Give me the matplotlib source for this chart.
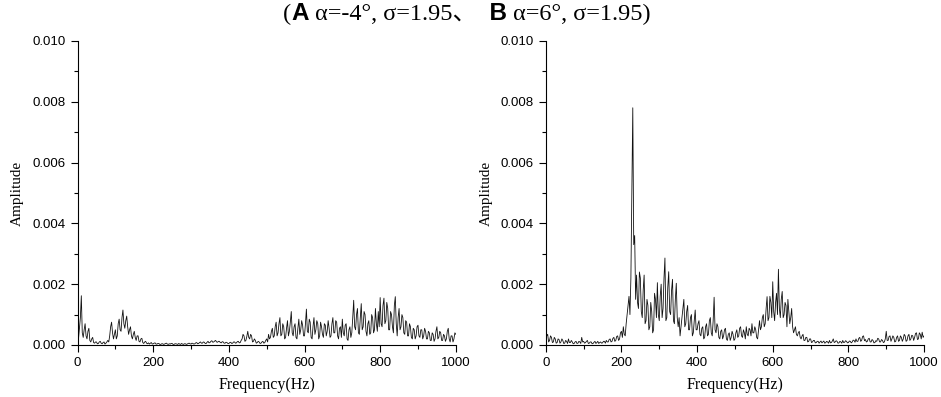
import numpy as np
import matplotlib
matplotlib.use('Agg')
from matplotlib import pyplot as plt
from matplotlib.ticker import MultipleLocator, FormatStrFormatter

# spectrum amplitudes (x 1e-3), one value every 2.5 Hz, one row = 50 Hz
freq = np.arange(0, 1000.1, 2.5)
amp_A = [
    0.35, 0.2, 0.55, 0.9, 1.62, 0.4, 0.25, 0.5, 0.7, 0.3, 0.2, 0.45, 0.55, 0.15, 0.1, 0.2, 0.25, 0.08, 0.06, 0.1,
    0.1, 0.04, 0.05, 0.1, 0.12, 0.06, 0.04, 0.08, 0.1, 0.03, 0.06, 0.1, 0.15, 0.1, 0.3, 0.6, 0.75, 0.4, 0.2, 0.35,
    0.5, 0.2, 0.3, 0.7, 0.85, 0.5, 0.45, 0.9, 1.15, 0.7, 0.55, 0.8, 0.95, 0.6, 0.35, 0.5, 0.6, 0.3, 0.2, 0.35,
    0.45, 0.25, 0.15, 0.3, 0.3, 0.12, 0.1, 0.2, 0.22, 0.08, 0.05, 0.1, 0.12, 0.06, 0.04, 0.07, 0.03, 0.06, 0.08, 0.03,
    0.04, 0.06, 0.07, 0.03, 0.03, 0.05, 0.05, 0.02, 0.02, 0.04, 0.04, 0.02, 0.03, 0.05, 0.06, 0.03, 0.02, 0.04, 0.03, 0.05,
    0.05, 0.02, 0.02, 0.04, 0.04, 0.03, 0.02, 0.05, 0.03, 0.02, 0.05, 0.03, 0.02, 0.04, 0.04, 0.02, 0.03, 0.05, 0.06, 0.04,
    0.03, 0.06, 0.05, 0.03, 0.04, 0.07, 0.08, 0.04, 0.05, 0.08, 0.1, 0.06, 0.06, 0.1, 0.09, 0.05, 0.05, 0.09, 0.12, 0.07,
    0.08, 0.12, 0.14, 0.09, 0.1, 0.13, 0.15, 0.1, 0.09, 0.12, 0.12, 0.08, 0.07, 0.11, 0.1, 0.06, 0.06, 0.09, 0.08, 0.05,
    0.05, 0.08, 0.09, 0.05, 0.06, 0.1, 0.1, 0.06, 0.07, 0.11, 0.12, 0.07, 0.08, 0.15, 0.2, 0.35, 0.3, 0.12, 0.15, 0.28,
    0.45, 0.25, 0.2, 0.35, 0.3, 0.1, 0.12, 0.2, 0.15, 0.06, 0.08, 0.12, 0.1, 0.05, 0.06, 0.1, 0.12, 0.06, 0.08, 0.15,
    0.2, 0.1, 0.35, 0.2, 0.25, 0.45, 0.55, 0.25, 0.3, 0.6, 0.75, 0.3, 0.4, 0.7, 0.9, 0.3, 0.35, 0.7, 0.6, 0.2,
    0.25, 0.55, 0.8, 0.3, 0.45, 0.75, 1.1, 0.4, 0.3, 0.6, 0.7, 0.25, 0.2, 0.55, 0.85, 0.35, 0.5, 0.8, 0.65, 0.3,
    0.3, 0.7, 1.18, 0.45, 0.4, 0.85, 0.75, 0.25, 0.2, 0.6, 0.9, 0.35, 0.5, 0.8, 0.7, 0.2, 0.3, 0.75, 0.6, 0.35,
    0.25, 0.7, 0.65, 0.3, 0.45, 0.8, 0.55, 0.25, 0.3, 0.7, 0.9, 0.4, 0.4, 0.8, 0.75, 0.3, 0.2, 0.55, 0.6, 0.25,
    0.85, 0.4, 0.3, 0.65, 0.7, 0.2, 0.15, 0.5, 0.6, 0.25, 0.4, 0.9, 1.47, 0.6, 0.5, 1.0, 1.2, 0.4, 0.35, 0.9,
    1.36, 0.5, 0.6, 1.1, 1.0, 0.45, 0.3, 0.7, 0.8, 0.35, 0.4, 1.0, 0.9, 0.4, 0.5, 1.2, 0.7, 0.45, 1.1, 0.6,
    1.56, 0.7, 0.6, 1.3, 1.54, 0.7, 0.8, 1.4, 1.2, 0.5, 0.5, 1.1, 1.0, 0.6, 0.4, 1.3, 1.59, 0.7, 0.3, 0.9,
    1.2, 0.5, 0.6, 1.0, 0.9, 0.4, 0.35, 0.8, 0.75, 0.3, 0.3, 0.7, 0.6, 0.25, 0.2, 0.55, 0.5, 0.2, 0.3, 0.6,
    0.65, 0.3, 0.25, 0.5, 0.5, 0.2, 0.3, 0.55, 0.45, 0.2, 0.2, 0.45, 0.4, 0.15, 0.15, 0.4, 0.35, 0.12, 0.2, 0.45,
    0.6, 0.2, 0.25, 0.45, 0.4, 0.15, 0.15, 0.35, 0.3, 0.12, 0.2, 0.45, 0.55, 0.2, 0.1, 0.3, 0.3, 0.1, 0.2, 0.4,
    0.35]
amp_B = [
    0.9, 0.3, 0.35, 0.1, 0.15, 0.3, 0.25, 0.08, 0.1, 0.25, 0.2, 0.06, 0.08, 0.2, 0.18, 0.06, 0.1, 0.2, 0.15, 0.05,
    0.06, 0.15, 0.12, 0.05, 0.2, 0.08, 0.08, 0.15, 0.1, 0.04, 0.05, 0.1, 0.12, 0.05, 0.06, 0.12, 0.1, 0.05, 0.25, 0.1,
    0.12, 0.06, 0.08, 0.12, 0.15, 0.05, 0.06, 0.1, 0.1, 0.04, 0.05, 0.09, 0.12, 0.05, 0.08, 0.12, 0.05, 0.08, 0.1, 0.06,
    0.07, 0.12, 0.12, 0.06, 0.15, 0.1, 0.1, 0.18, 0.2, 0.1, 0.12, 0.22, 0.25, 0.12, 0.15, 0.28, 0.3, 0.15, 0.2, 0.4,
    0.45, 0.25, 0.6, 0.35, 0.3, 0.7, 1.0, 1.3, 1.6, 1.0, 2.2, 4.9, 7.8, 3.3, 3.6, 1.5, 2.3, 1.4, 1.2, 2.4,
    2.2, 1.1, 0.9, 1.8, 2.3, 0.7, 0.8, 1.5, 1.3, 0.5, 0.6, 1.4, 1.1, 0.4, 0.5, 1.7, 1.5, 0.9, 2.05, 1.0,
    0.8, 1.6, 2.0, 0.9, 1.2, 2.2, 2.86, 0.8, 0.9, 1.9, 2.41, 1.1, 1.0, 1.8, 2.16, 0.8, 0.7, 1.5, 2.03, 0.9,
    0.6, 0.9, 0.3, 0.6, 0.9, 1.2, 1.5, 0.6, 0.7, 1.1, 1.3, 0.5, 0.5, 0.9, 1.0, 0.3, 0.4, 0.8, 1.15, 0.5,
    0.5, 0.7, 0.8, 0.35, 0.3, 0.55, 0.6, 0.2, 0.25, 0.6, 0.7, 0.3, 0.35, 0.8, 0.9, 0.4, 0.3, 0.8, 1.57, 0.5,
    0.4, 0.7, 0.6, 0.25, 0.2, 0.45, 0.5, 0.2, 0.3, 0.5, 0.55, 0.2, 0.15, 0.35, 0.4, 0.15, 0.25, 0.45, 0.35, 0.15,
    0.2, 0.4, 0.5, 0.25, 0.3, 0.55, 0.6, 0.3, 0.25, 0.5, 0.4, 0.2, 0.6, 0.35, 0.3, 0.55, 0.5, 0.3, 0.7, 0.4,
    0.4, 0.6, 0.5, 0.25, 0.2, 0.5, 0.8, 0.5, 0.6, 0.9, 1.0, 0.6, 0.7, 1.2, 1.59, 0.8, 0.9, 1.6, 1.4, 0.9,
    2.08, 1.1, 0.8, 1.4, 1.7, 1.0, 2.49, 1.2, 0.9, 1.5, 1.76, 0.9, 1.0, 1.4, 1.3, 0.6, 1.5, 1.1, 0.7, 0.9,
    1.2, 0.6, 0.4, 0.5, 0.6, 0.35, 0.3, 0.4, 0.45, 0.25, 0.2, 0.3, 0.35, 0.15, 0.15, 0.25, 0.25, 0.1, 0.12, 0.2,
    0.2, 0.08, 0.1, 0.15, 0.15, 0.07, 0.08, 0.12, 0.12, 0.06, 0.1, 0.13, 0.07, 0.1, 0.13, 0.06, 0.08, 0.12, 0.1, 0.06,
    0.15, 0.07, 0.08, 0.13, 0.2, 0.08, 0.1, 0.14, 0.12, 0.06, 0.07, 0.12, 0.1, 0.06, 0.15, 0.08, 0.09, 0.14, 0.12, 0.07,
    0.08, 0.13, 0.12, 0.07, 0.1, 0.16, 0.15, 0.09, 0.2, 0.12, 0.12, 0.22, 0.25, 0.12, 0.15, 0.28, 0.3, 0.14, 0.18, 0.1,
    0.12, 0.2, 0.22, 0.1, 0.1, 0.18, 0.15, 0.07, 0.08, 0.14, 0.12, 0.22, 0.2, 0.1, 0.1, 0.18, 0.15, 0.08, 0.1, 0.2,
    0.45, 0.15, 0.15, 0.28, 0.3, 0.12, 0.2, 0.3, 0.25, 0.1, 0.12, 0.25, 0.3, 0.12, 0.15, 0.3, 0.25, 0.12, 0.2, 0.35,
    0.3, 0.12, 0.15, 0.3, 0.35, 0.15, 0.2, 0.32, 0.3, 0.15, 0.25, 0.38, 0.4, 0.18, 0.2, 0.4, 0.35, 0.2, 0.42, 0.25,
    0.3]

title_parts = [('(', 'serif', 'normal'),
               ('A', 'sans', 'bold'),
               (' α=-4°, σ=1.95、', 'serif', 'normal'),
               ('  B', 'sans', 'bold'),
               (' α=6°, σ=1.95)', 'serif', 'normal')]

SERIF = ['Liberation Serif', 'Noto Sans CJK SC', 'DejaVu Sans']
SANS = ['Liberation Sans', 'DejaVu Sans']

fig = plt.figure(figsize=(9.41, 3.97), dpi=100)
ax_A = fig.add_axes([0.0824, 0.131, 0.402, 0.766])
ax_B = fig.add_axes([0.580, 0.131, 0.402, 0.766])

for ax, amp in [(ax_A, amp_A), (ax_B, amp_B)]:
    ax.plot(freq, np.array(amp) * 1e-3, color='#111111', lw=0.6)
    ax.set_xlim(0, 1000)
    ax.set_ylim(0, 0.010)
    ax.spines['top'].set_visible(False)
    ax.spines['right'].set_visible(False)
    ax.xaxis.set_major_locator(MultipleLocator(200))
    ax.xaxis.set_minor_locator(MultipleLocator(100))
    ax.yaxis.set_major_locator(MultipleLocator(0.002))
    ax.yaxis.set_minor_locator(MultipleLocator(0.001))
    ax.yaxis.set_major_formatter(FormatStrFormatter('%.3f'))
    ax.tick_params(which='major', direction='out', length=5, width=0.8, labelsize=9.5)
    ax.tick_params(which='minor', direction='out', length=3, width=0.8)
    for lab in ax.get_xticklabels() + ax.get_yticklabels():
        lab.set_fontfamily(SANS)
    ax.set_xlabel('Frequency(Hz)', family=SERIF, fontsize=11.5, labelpad=6)
    ax.set_ylabel('Amplitude', family=SERIF, fontsize=11, labelpad=6)

# title built from pieces, left to right
fig.canvas.draw()
r = fig.canvas.get_renderer()
x = 283 / 941
for txt, fam, wt in title_parts:
    t = fig.text(x, 1 - 14 / 397, txt, family=SERIF if fam == 'serif' else SANS,
                 weight=wt, fontsize=17.5, va='center', ha='left')
    bb = t.get_window_extent(renderer=r)
    x += bb.width / fig.bbox.width

fig.savefig('out.png', dpi=100)
